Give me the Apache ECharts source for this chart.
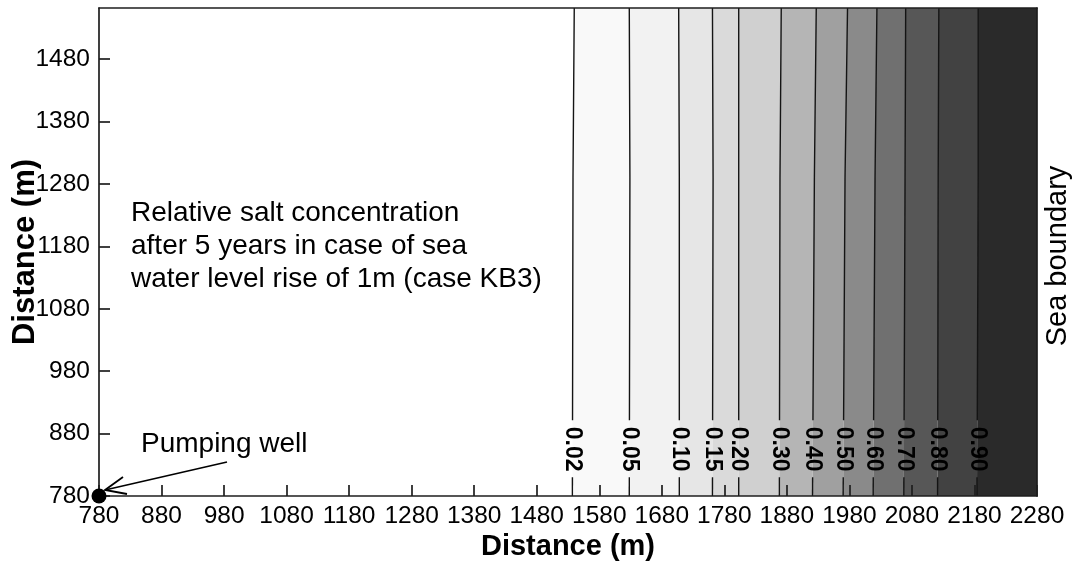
<!DOCTYPE html>
<html>
<head>
<meta charset="utf-8">
<script src="https://cdn.jsdelivr.net/npm/echarts@6/dist/echarts.min.js"></script>
<style>
  html, body { margin: 0; padding: 0; background: #fff; }
  #chart { width: 1076px; height: 565px; }
</style>
</head>
<body>
<div id="chart"></div>
<script>
// Contour levels of relative salt concentration
const levels = [0.02, 0.05, 0.10, 0.15, 0.20, 0.30, 0.40, 0.50, 0.60, 0.70, 0.80, 0.90];
const levelLabels = ['0.02', '0.05', '0.10', '0.15', '0.20', '0.30', '0.40', '0.50', '0.60', '0.70', '0.80', '0.90'];
// y (m) at which each contour's x position is given
const sampleY = [780, 1290, 1562];
// x (m) of each contour at the sampleY positions (bottom, middle, top)
const contourX = [
  [1537, 1538, 1540],
  [1628, 1629, 1628],
  [1708, 1708, 1707],
  [1761, 1762, 1761],
  [1803, 1803, 1803],
  [1868, 1869, 1871],
  [1921, 1924, 1927],
  [1970, 1973, 1977],
  [2018, 2021, 2024],
  [2067, 2069, 2070],
  [2121, 2122, 2123],
  [2184, 2186, 2186]
];
// Axis ranges and tick labels
const xRange = [780, 2280];
const yRange = [780, 1562];
const xTicks = [780, 880, 980, 1080, 1180, 1280, 1380, 1480, 1580, 1680, 1780, 1880, 1980, 2080, 2180, 2280];
const yTicks = [780, 880, 980, 1080, 1180, 1280, 1380, 1480];
// Pumping well location (m)
const wellPos = [780, 780];
// y (m) where the contour labels sit
const labelY = 855;

// Fill colours between successive contours (last one runs to the sea boundary)
const bandColors = ['#f9f9f9', '#f2f2f2', '#e6e6e6', '#dadada', '#d0d0d0', '#b5b5b5',
                    '#a0a0a0', '#8a8a8a', '#707070', '#575757', '#424242', '#2a2a2a'];
const FONT = "'Liberation Sans', Arial, Helvetica, sans-serif";
const AX = '#1e1e1e';

const chart = echarts.init(document.getElementById('chart'), null, { renderer: 'canvas' });

function contourPoints(api, i) {
  return sampleY.map((y, k) => api.coord([contourX[i][k], y]));
}

function renderBand(params, api) {
  const i = api.value(0);
  const left = contourPoints(api, i);
  let right;
  if (i + 1 < contourX.length) {
    right = contourPoints(api, i + 1);
  } else {
    right = sampleY.map(y => api.coord([xRange[1], y]));
  }
  const pts = left.concat(right.slice().reverse());
  return {
    type: 'polygon',
    shape: { points: pts },
    style: { fill: bandColors[i], stroke: null }
  };
}

// x pixel of a polyline at a given pixel y
function xAtPixelY(pts, py) {
  for (let k = 0; k < pts.length - 1; k++) {
    const a = pts[k], b = pts[k + 1];
    if ((py <= a[1] && py >= b[1]) || (py >= a[1] && py <= b[1])) {
      const t = (py - a[1]) / (b[1] - a[1] || 1);
      return a[0] + t * (b[0] - a[0]);
    }
  }
  return pts[0][0];
}

function renderContour(params, api) {
  const i = api.value(0);
  const pts = contourPoints(api, i);
  const cy = api.coord([xRange[0], labelY])[1];
  const gapLo = cy + 28, gapHi = cy - 29;
  const lower = [pts[0], [xAtPixelY(pts, gapLo), gapLo]];
  const upper = [[xAtPixelY(pts, gapHi), gapHi]].concat(pts.slice(1));
  const cx = xAtPixelY(pts, cy);
  const lineStyle = { stroke: '#141414', lineWidth: 1.4, fill: null };
  return {
    type: 'group',
    children: [
      { type: 'polyline', shape: { points: lower }, style: lineStyle },
      { type: 'polyline', shape: { points: upper }, style: lineStyle },
      {
        type: 'text',
        x: cx, y: cy,
        rotation: -Math.PI / 2,
        style: {
          text: levelLabels[i],
          x: 0, y: 0,
          align: 'center', verticalAlign: 'middle',
          font: 'bold 23px ' + FONT,
          fill: '#000'
        }
      }
    ]
  };
}

const axisLineStyle = { color: AX, width: 1.7 };
const plainNumber = v => String(v);

chart.setOption({
  animation: false,
  backgroundColor: '#fff',
  grid: { left: 99, right: 39, top: 8, bottom: 69, containLabel: false, outerBoundsMode: 'none' },
  xAxis: [
    {
      type: 'value', min: xRange[0], max: xRange[1], interval: 100,
      position: 'bottom', z: 10,
      name: 'Distance (m)', nameLocation: 'middle', nameGap: 36, nameMoveOverlap: false,
      nameTextStyle: { fontSize: 29, fontWeight: 'bold', color: '#000', fontFamily: FONT },
      axisLine: { show: true, onZero: false, lineStyle: axisLineStyle },
      axisTick: { show: true, inside: true, length: 11, customValues: xTicks, lineStyle: axisLineStyle },
      axisLabel: { fontSize: 24.5, color: '#000', margin: 8, fontFamily: FONT, customValues: xTicks, formatter: plainNumber },
      splitLine: { show: false }
    },
    {
      type: 'value', min: xRange[0], max: xRange[1], position: 'top', z: 10,
      axisLine: { show: true, onZero: false, lineStyle: axisLineStyle },
      axisTick: { show: false }, axisLabel: { show: false }, splitLine: { show: false }
    }
  ],
  yAxis: [
    {
      type: 'value', min: yRange[0], max: yRange[1], interval: 100,
      position: 'left', z: 10,
      name: 'Distance (m)', nameLocation: 'middle', nameGap: 58, nameRotate: 90, nameMoveOverlap: false,
      nameTextStyle: { fontSize: 31, fontWeight: 'bold', color: '#000', fontFamily: FONT },
      axisLine: { show: true, onZero: false, lineStyle: axisLineStyle },
      axisTick: { show: true, inside: true, length: 11, customValues: yTicks, lineStyle: axisLineStyle },
      axisLabel: { fontSize: 24.5, color: '#000', margin: 9, fontFamily: FONT, customValues: yTicks, formatter: plainNumber },
      splitLine: { show: false }
    },
    {
      type: 'value', min: yRange[0], max: yRange[1], position: 'right', z: 10,
      axisLine: { show: true, onZero: false, lineStyle: axisLineStyle },
      axisTick: { show: false }, axisLabel: { show: false }, splitLine: { show: false }
    }
  ],
  series: [
    {
      type: 'custom', name: 'bands', z: 1,
      xAxisIndex: 0, yAxisIndex: 0,
      data: levels.map((v, i) => [i, v]),
      renderItem: renderBand,
      silent: true
    },
    {
      type: 'custom', name: 'contours', z: 3,
      xAxisIndex: 0, yAxisIndex: 0,
      data: levels.map((v, i) => [i, v]),
      renderItem: renderContour,
      silent: true
    },
    {
      type: 'scatter', name: 'Pumping well', z: 20,
      xAxisIndex: 0, yAxisIndex: 0,
      data: [wellPos],
      symbol: 'circle', symbolSize: 15,
      itemStyle: { color: '#000', opacity: 1 },
      clip: false,
      silent: true
    }
  ]
});

// Annotations: description, well label with arrow, sea boundary
const wp = chart.convertToPixel({ gridIndex: 0 }, wellPos);
const tip = [wp[0] + 6, wp[1] - 6];
const tail = [tip[0] + 122, tip[1] - 28];
chart.setOption({
  graphic: [
    {
      type: 'text', left: 131, top: 197, z: 30,
      style: {
        text: 'Relative salt concentration\nafter 5 years in case of sea\nwater level rise of 1m (case KB3)',
        font: '28px ' + FONT, lineHeight: 33, fill: '#000'
      }
    },
    {
      type: 'text', left: 141, top: 430, z: 30,
      style: { text: 'Pumping well', font: '28px ' + FONT, fill: '#000' }
    },
    {
      type: 'polyline', z: 30,
      shape: { points: [tail, tip] },
      style: { stroke: '#000', lineWidth: 1.6, fill: null }
    },
    {
      type: 'polyline', z: 30,
      shape: { points: [[tip[0] + 18, tip[1] - 13], tip, [tip[0] + 22, tip[1] + 4]] },
      style: { stroke: '#000', lineWidth: 1.8, fill: null }
    },
    {
      type: 'text', x: 1058, y: 256, rotation: Math.PI / 2, z: 30,
      style: {
        text: 'Sea boundary', font: '29px ' + FONT, fill: '#000',
        align: 'center', verticalAlign: 'middle'
      }
    }
  ]
});
</script>
</body>
</html>
